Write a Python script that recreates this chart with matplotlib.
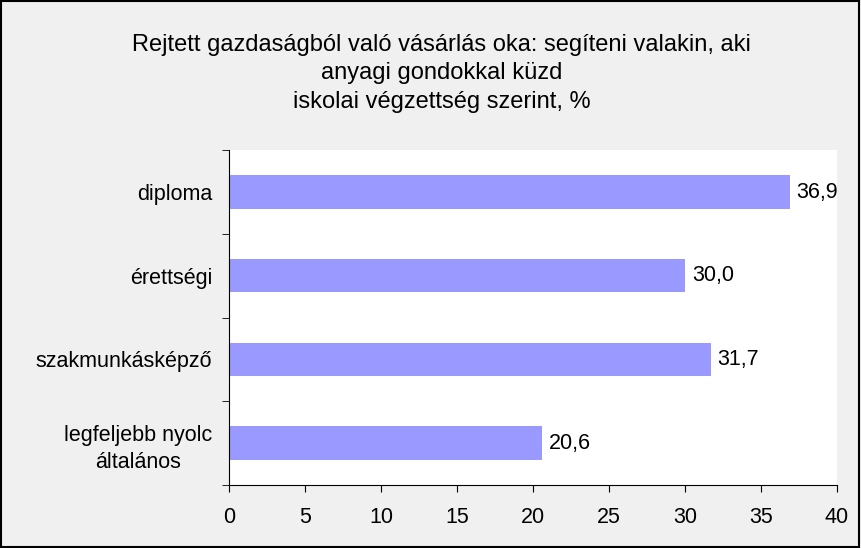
import matplotlib
matplotlib.use('Agg')
import matplotlib.pyplot as plt
import numpy as np

plt.rcParams['font.family'] = ['Liberation Sans', 'DejaVu Sans']

categories = ['legfeljebb nyolc\náltalános', 'szakmunkásképző', 'érettségi', 'diploma']
values = [20.6, 31.7, 30.0, 36.9]
value_labels = ['20,6', '31,7', '30,0', '36,9']
x_ticks = [0, 5, 10, 15, 20, 25, 30, 35, 40]

fig = plt.figure(figsize=(8.61, 5.48), dpi=100, facecolor='#f0f0f0')
ax = fig.add_axes([0.266, 0.115, 0.706, 0.611])
ax.set_facecolor('white')

y = np.arange(len(categories))
bars = ax.barh(y, values, height=0.4, color='#9999ff')

for b, lab in zip(bars, value_labels):
    ax.annotate(lab, (b.get_width(), b.get_y() + b.get_height() / 2),
                xytext=(5, 0), textcoords='offset points',
                va='center', ha='left', fontsize=15.5)

ax.set_xlim(0, 40)
ax.set_ylim(-0.5, len(categories) - 0.5)
ax.set_xticks(x_ticks)
ax.set_xticklabels([str(t) for t in x_ticks], fontsize=15.5)
ax.set_yticks(y)
ax.set_yticklabels(categories, fontsize=15.5, linespacing=1.4, multialignment='center')
ax.set_yticks(np.arange(len(categories) + 1) - 0.5, minor=True)
ax.tick_params(axis='y', which='major', length=0, pad=12)
ax.tick_params(axis='y', which='minor', length=5, direction='out')
ax.tick_params(axis='x', length=5, direction='out', pad=11)

for s in ['top', 'right']:
    ax.spines[s].set_visible(False)
ax.spines['left'].set_color('black')
ax.spines['bottom'].set_color('black')

fig.text(0.513, 0.866, 'Rejtett gazdaságból való vásárlás oka: segíteni valakin, aki\n'
         'anyagi gondokkal küzd\niskolai végzettség szerint, %',
         ha='center', va='center', fontsize=17, linespacing=1.4)

fig.patches.append(plt.Rectangle((0.001, 0.001), 0.997, 0.997, transform=fig.transFigure,
                                 fill=False, edgecolor='black', linewidth=1.5))

fig.savefig('out.png', dpi=100, facecolor=fig.get_facecolor())
